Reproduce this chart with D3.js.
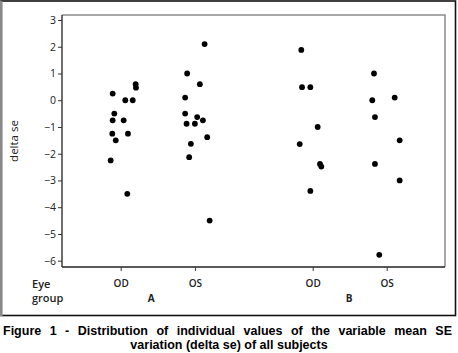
<!DOCTYPE html>
<html>
<head>
<meta charset="utf-8">
<script src="https://cdn.jsdelivr.net/npm/d3@7"></script>
<style>
  body { margin: 0; background: #fff; }
  svg { display: block; }
</style>
</head>
<body>
<div id="chart"></div>
<script>
// values: delta se per subject, with the horizontal jitter (in category units)
const odA = [0.25, -0.5, -0.75, -0.75, 0, 0, 0.6, 0.47, -1.25, -1.25, -1.5, -2.25, -3.5];
const odAJitter = [-0.108, -0.086, -0.108, 0.04, 0.062, 0.162, 0.202, 0.206, -0.113, 0.098, -0.067, -0.135, 0.089];
const osA = [1.0, 2.1, 0.6, 0.1, -0.5, -0.88, -0.88, -0.63, -0.75, -1.38, -1.63, -2.13, -4.5];
const osAJitter = [-0.104, 0.131, 0.067, -0.131, -0.131, -0.112, 0, 0.031, 0.108, 0.166, -0.054, -0.077, 0.199];
const odB = [1.88, 0.49, 0.49, -1.0, -1.64, -2.38, -2.48, -3.39];
const odBJitter = [-0.154, -0.144, -0.032, 0.067, -0.175, 0.098, 0.116, -0.032];
const osB = [1.0, 0, 0.1, -0.63, -1.5, -2.38, -3.0, -5.78];
const osBJitter = [-0.171, -0.194, 0.108, -0.158, 0.175, -0.158, 0.175, -0.1];

const eyeLabels = ["OD", "OS", "OD", "OS"];
const eyePos = [1, 2, 3.588, 4.585];
const groupLabels = ["A", "B"];
const groupPos = [1.41, 4.08];
const yTicks = [3, 2, 1, 0, -1, -2, -3, -4, -5, -6];

const series = [
  { pos: eyePos[0], values: odA, jitter: odAJitter },
  { pos: eyePos[1], values: osA, jitter: osAJitter },
  { pos: eyePos[2], values: odB, jitter: odBJitter },
  { pos: eyePos[3], values: osB, jitter: osBJitter }
];

const width = 458, height = 353;
const plot = { left: 62, right: 445, top: 15, bottom: 267 };
const axisFont = "'Open Sans', 'Noto Sans', sans-serif";

const svg = d3.select("#chart")
  .append("svg")
  .attr("width", width)
  .attr("height", height);

// outer frame of the figure
svg.append("rect")
  .attr("x", 1).attr("y", 1)
  .attr("width", 454.5).attr("height", 314.5)
  .attr("fill", "none")
  .attr("stroke", "#111")
  .attr("stroke-width", 1.6);
svg.append("line")
  .attr("x1", 1.3).attr("x2", 1.3)
  .attr("y1", 1).attr("y2", 316)
  .attr("stroke", "#8a8a8a")
  .attr("stroke-width", 2.6);

let x = d3.scaleLinear()
  .domain([0.209, 5.371])
  .range([plot.left, plot.right]);

let y = d3.scaleLinear()
  .domain([-6, 3])
  .range([260.7, 20]);

// grey top/right border of the plot area
svg.append("path")
  .attr("d", `M${plot.left},${plot.top}H${plot.right}V${plot.bottom}`)
  .attr("fill", "none")
  .attr("stroke", "#8c8c8c")
  .attr("stroke-width", 1.5);

// y axis
const yAxis = svg.append("g")
  .attr("transform", `translate(${plot.left},0)`)
  .call(d3.axisLeft(y).tickValues(yTicks).tickSize(4).tickPadding(2).tickFormat(d3.format("d")));
yAxis.select(".domain")
  .attr("d", `M0,${plot.top}V${plot.bottom}`)
  .attr("stroke", "#222")
  .attr("stroke-width", 1.3);
yAxis.selectAll(".tick line").attr("stroke", "#333");
yAxis.selectAll(".tick text")
  .attr("fill", "#222")
  .style("font-family", axisFont)
  .style("font-size", "10.5px");

// x axis
const xAxis = svg.append("g")
  .attr("transform", `translate(0,${plot.bottom})`)
  .call(d3.axisBottom(x).tickValues(eyePos).tickSize(4).tickFormat((d, i) => eyeLabels[i]).tickPadding(9));
xAxis.select(".domain")
  .attr("d", `M${plot.left},0H${plot.right}`)
  .attr("stroke", "#222")
  .attr("stroke-width", 1.3);
xAxis.selectAll(".tick line").attr("stroke", "#333");
xAxis.selectAll(".tick text")
  .attr("fill", "#222")
  .style("font-family", axisFont)
  .style("font-size", "10px")
  .style("font-weight", "600");

// group labels
svg.selectAll(".group-label")
  .data(groupLabels)
  .join("text")
  .attr("class", "group-label")
  .attr("x", (d, i) => x(groupPos[i]))
  .attr("y", 302)
  .attr("text-anchor", "middle")
  .style("font-family", axisFont)
  .style("font-size", "10px")
  .style("font-weight", "700")
  .attr("fill", "#222")
  .text(d => d);

svg.append("text").attr("x", 32).attr("y", 288).text("Eye")
  .style("font-family", axisFont).style("font-size", "11px").style("font-weight", "600").attr("fill", "#222");
svg.append("text").attr("x", 32).attr("y", 302).text("group")
  .style("font-family", axisFont).style("font-size", "11px").style("font-weight", "600").attr("fill", "#222");

// y axis title
svg.append("text")
  .attr("transform", `translate(18,${(plot.top + plot.bottom) / 2}) rotate(-90)`)
  .attr("text-anchor", "middle")
  .style("font-family", axisFont)
  .style("font-size", "11.5px")
  .attr("fill", "#222")
  .text("delta se");

// individual values
const points = series.flatMap(s => s.values.map((v, i) => ({ pos: s.pos + s.jitter[i], value: v })));
svg.selectAll(".dot")
  .data(points)
  .join("circle")
  .attr("class", "dot")
  .attr("cx", d => x(d.pos))
  .attr("cy", d => y(d.value))
  .attr("r", 2.9)
  .attr("fill", "#000");

// caption, first line justified across the frame
const cap1 = svg.append("text")
  .attr("x", 3).attr("y", 335)
  .style("font-family", "'Liberation Sans', Arial, sans-serif")
  .style("font-size", "12.5px")
  .style("font-weight", "700")
  .text("Figure 1 - Distribution of individual values of the variable mean SE");
const words = cap1.text().split(" ").length - 1;
const extra = (449 - cap1.node().getComputedTextLength()) / words;
cap1.style("word-spacing", extra + "px");

svg.append("text")
  .attr("x", 229).attr("y", 348.5)
  .attr("text-anchor", "middle")
  .style("font-family", "'Liberation Sans', Arial, sans-serif")
  .style("font-size", "12.5px")
  .style("font-weight", "700")
  .text("variation (delta se) of all subjects");
</script>
</body>
</html>
